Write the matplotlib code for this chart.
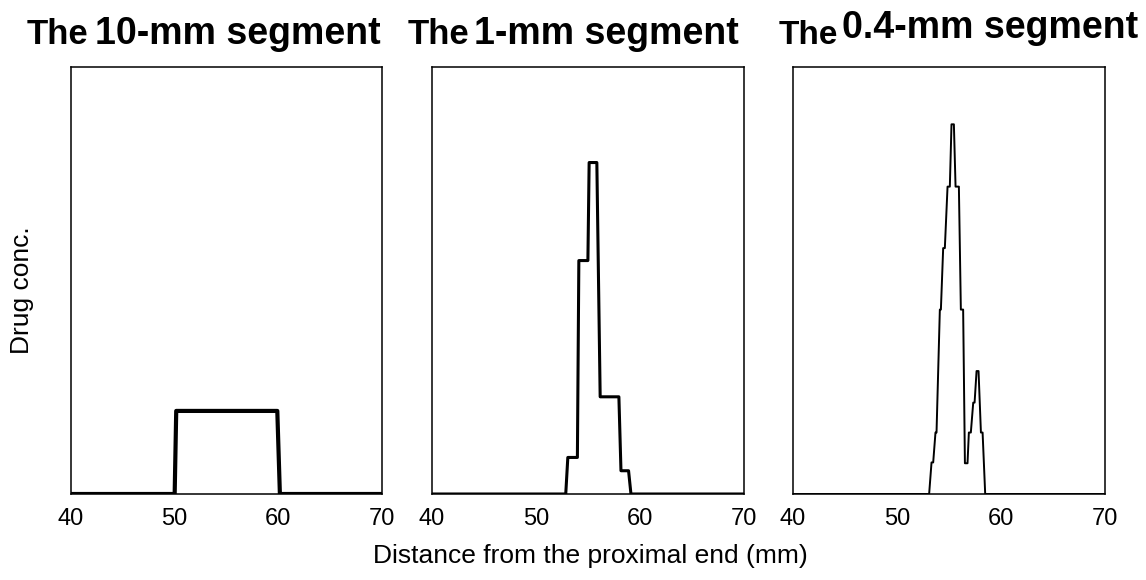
import numpy as np
import matplotlib.pyplot as plt

plt.rcParams['font.family'] = ['Liberation Sans', 'DejaVu Sans']

# distance (mm) / relative drug conc. vertices
x_10mm = [40, 50.0, 50.15, 59.9, 60.15, 70]
y_10mm = [0, 0, 1.0, 1.0, 0, 0]

x_1mm = [40, 52.86, 53.06, 53.98, 54.12, 54.99, 55.11, 55.85, 56.17, 57.97, 58.17, 58.90, 59.13, 70]
y_1mm = [0, 0, 0.44, 0.44, 2.81, 2.81, 3.99, 3.99, 1.17, 1.17, 0.28, 0.28, 0, 0]

x_04mm = [40, 53.09, 53.32, 53.48, 53.70, 53.80, 54.12, 54.22, 54.44, 54.60, 54.86, 55.08,
          55.24, 55.47, 55.63, 55.95, 56.14, 56.36, 56.53, 56.78, 56.91, 57.10, 57.33,
          57.46, 57.65, 57.84, 58.07, 58.23, 58.48, 70]
y_04mm = [0, 0, 0.38, 0.38, 0.74, 0.74, 2.22, 2.22, 2.96, 2.96, 3.70, 3.70,
          4.45, 4.45, 3.70, 3.70, 2.22, 2.22, 0.37, 0.37, 0.74, 0.74, 1.10,
          1.10, 1.48, 1.48, 0.74, 0.74, 0, 0]

xticks = [40, 50, 60, 70]
titles = [('The', '10-mm segment'), ('The', '1-mm segment'), ('The', '0.4-mm segment')]

W, H = 1146, 580
fig = plt.figure(figsize=(W / 100, H / 100), dpi=100)

# axes boxes in pixels: left, right ; top/bottom shared
boxes = [(71, 382), (432, 744), (793, 1105)]
top, bot = 67, 494
data = [(x_10mm, y_10mm, 3.0), (x_1mm, y_1mm, 2.2), (x_04mm, y_04mm, 1.4)]

for (l, r), (xs, ys, lw) in zip(boxes, data):
    ax = fig.add_axes([l / W, (H - bot) / H, (r - l) / W, (bot - top) / H])
    ax.plot(xs, ys, color='black', lw=lw, solid_joinstyle='round')
    ax.set_xlim(40, 70)
    ax.set_ylim(0, 5.14)
    ax.set_xticks(xticks)
    ax.set_yticks([])
    ax.tick_params(axis='x', length=0, pad=10, labelsize=17)
    for s in ax.spines.values():
        s.set_linewidth(1.1)

# titles: "The" a bit smaller than the rest, third one raised a bit
pos = [(27, 44, 25, 95, 44), (408, 44, 25, 474, 44), (779, 44, 24, 842, 38)]
for (t1, t2), (x1, y1, fs1, x2, y2) in zip(titles, pos):
    fig.text(x1 / W, 1 - y1 / H, t1, fontsize=fs1, fontweight='bold', ha='left', va='baseline')
    fig.text(x2 / W, 1 - y2 / H, t2, fontsize=27, fontweight='bold', ha='left', va='baseline')

fig.text(590 / W, 1 - 556 / H, 'Distance from the proximal end (mm)', fontsize=19,
         ha='center', va='center')
fig.text(22 / W, 1 - 290 / H, 'Drug conc.', fontsize=19, rotation=90,
         ha='center', va='center')

fig.savefig('out.png', dpi=100)
